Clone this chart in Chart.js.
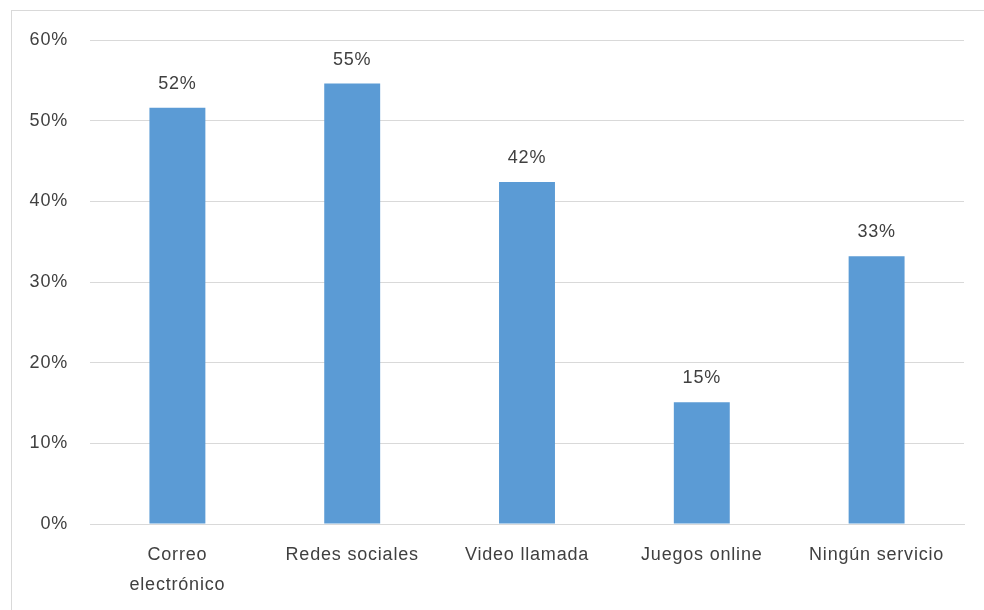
<!DOCTYPE html>
<html>
<head>
<meta charset="utf-8">
<script src="https://cdn.jsdelivr.net/npm/chart.js@4"></script>
<style>
html,body{margin:0;padding:0;background:#fff;}
#wrap{position:absolute;left:0;top:0;width:984px;height:610px;}
#frame{position:absolute;left:11px;top:10px;width:990px;height:620px;border:1px solid #d9d9d9;box-sizing:border-box;}
canvas{position:absolute;left:0;top:0;}
</style>
</head>
<body>
<div id="wrap">
<div id="frame"></div>
<canvas id="c" width="984" height="610"></canvas>
</div>
<script>
const categories = [["Correo","electrónico"], "Redes sociales", "Video llamada", "Juegos online", "Ningún servicio"];
const values = [51.6, 54.6, 42.4, 15.1, 33.2];
const yTicks = [0, 10, 20, 30, 40, 50, 60];

const FONT = "'Liberation Sans', Arial, sans-serif";
const TEXT = '#404040';

const spacing = {
  id: 'spacing',
  beforeDraw(chart) { chart.ctx.letterSpacing = '0.8px'; }
};

const dataLabels = {
  id: 'dataLabels',
  afterDatasetsDraw(chart) {
    const ctx = chart.ctx;
    const meta = chart.getDatasetMeta(0);
    ctx.save();
    ctx.letterSpacing = '0.8px';
    ctx.font = '18px ' + FONT;
    ctx.fillStyle = TEXT;
    ctx.textAlign = 'center';
    ctx.textBaseline = 'middle';
    meta.data.forEach((bar, i) => {
      ctx.fillText(Math.round(values[i]) + '%', bar.x, bar.y - 24);
    });
    ctx.restore();
  }
};

new Chart(document.getElementById('c'), {
  type: 'bar',
  data: {
    labels: categories,
    datasets: [{
      data: values,
      backgroundColor: '#5B9BD5',
      borderWidth: 0,
      barPercentage: 0.32,
      categoryPercentage: 1
    }]
  },
  options: {
    responsive: false,
    animation: false,
    layout: { padding: { left: 0, right: 20, top: 40, bottom: 0 } },
    plugins: { legend: { display: false }, tooltip: { enabled: false } },
    scales: {
      x: {
        grid: { display: false, drawTicks: false },
        border: { display: true, color: '#d9d9d9', width: 1 },
        ticks: { color: TEXT, font: { family: FONT, size: 18, lineHeight: 1.65 }, padding: 16, maxRotation: 0, autoSkip: false },
        afterFit(s) { s.height = 86; }
      },
      y: {
        min: 0, max: 60,
        afterBuildTicks(s) { s.ticks = yTicks.map(v => ({ value: v })); },
        grid: { color: '#d9d9d9', lineWidth: 1, drawTicks: false },
        border: { display: false },
        ticks: { color: TEXT, font: { family: FONT, size: 18 }, padding: 22, callback: v => v + '%' },
        afterFit(s) { s.width = 90; }
      }
    }
  },
  plugins: [spacing, dataLabels]
});
</script>
</body>
</html>
